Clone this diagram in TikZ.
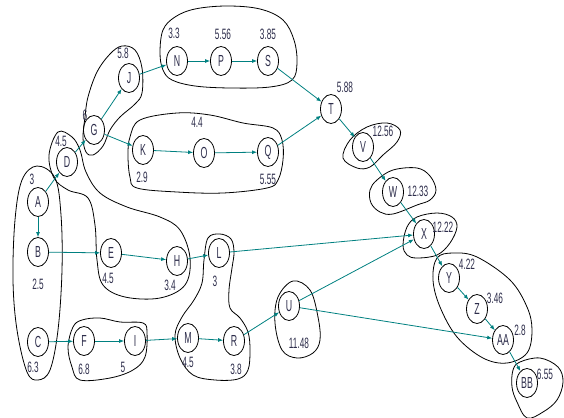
\documentclass[tikz,border=0pt]{standalone}
\usepackage{fontspec}
\setmainfont{Liberation Sans}[FakeStretch=0.55]
\usetikzlibrary{shapes.geometric,arrows.meta}
\definecolor{edgec}{RGB}{0,128,128}
\definecolor{txtc}{RGB}{45,45,75}
\tikzset{
  act/.style={ellipse,draw=black,line width=0.8pt,minimum width=21pt,minimum height=29pt,inner sep=0pt,
    font=\fontsize{16}{16}\selectfont,text=txtc},
  lab/.style={inner sep=0pt,font=\fontsize{15}{15}\selectfont,text=txtc},
  conn/.style={draw=edgec,line width=0.8pt,-{Latex[length=5pt,width=4pt]}},
  blob/.style={draw=black,line width=0.8pt,smooth cycle,tension=0.6}
}
\begin{document}
\begin{tikzpicture}[x=1pt,y=-1pt]
\useasboundingbox (0,0) rectangle (564,417);
% blobs
\draw[blob] plot coordinates {(37,166) (55,178) (61,215) (62,270) (58,330) (50,370) (38,380) (27,372) (17,330) (13,280) (15,220) (22,180)};
\draw[blob] plot coordinates {(58,132) (72,137) (80,150) (86,172) (100,193) (127,207) (160,217) (180,230) (190,258) (185,285) (160,298) (125,297) (103,285) (97,260) (95,225) (88,198) (68,190) (54,178) (49,155)};
\draw[blob] plot coordinates {(122,46) (135,50) (142,68) (142,93) (135,104) (120,117) (110,130) (103,146) (93,155) (86,152) (83,138) (85,117) (88,97) (97,72) (110,54)};
\draw[blob] plot coordinates {(163,30) (175,17) (195,9) (227,6) (260,9) (283,20) (294,40) (297,63) (292,80) (270,87) (230,88) (195,86) (172,80) (163,70) (160,53)};
\draw[blob] plot coordinates {(130,137) (140,120) (177,113) (210,115) (243,123) (273,128) (282,140) (283,160) (278,180) (267,188) (223,193) (177,192) (137,188) (130,177) (128,155)};
\draw[blob] plot coordinates {(208,238) (220,234) (231,239) (234,252) (232,268) (229,290) (230,308) (240,318) (248,332) (250,350) (248,370) (238,379) (215,380) (193,375) (180,358) (175,335) (182,317) (194,300) (202,283) (204,260)};
\draw[blob] plot coordinates {(293,281) (310,290) (318,317) (320,340) (313,353) (297,358) (282,350) (275,323) (278,297)};
\draw[blob] plot coordinates {(343,158) (350,140) (367,127) (387,123) (400,130) (397,142) (383,155) (370,167) (357,168)};
\draw[blob] plot coordinates {(377,180) (393,170) (417,168) (430,176) (436,190) (430,200) (417,205) (393,214) (380,212) (371,203) (370,190)};
\draw[blob] plot coordinates {(407,227) (417,217) (437,213) (452,217) (457,227) (450,243) (437,255) (417,258) (407,255) (403,245)};
\draw[blob] plot coordinates {(437,258) (453,253) (477,257) (510,280) (527,307) (532,330) (527,353) (507,363) (483,358) (457,337) (440,307) (433,280)};
\draw[blob] plot coordinates {(513,370) (520,362) (540,358) (558,367) (563,382) (557,400) (543,412) (527,418) (517,402) (512,387)};
\draw[blob] plot coordinates {(73,327) (82,320) (100,318) (120,322) (143,323) (147,333) (145,357) (133,370) (110,378) (80,380) (72,367) (68,347)};
% nodes
\node[act] (A) at (38,202) {A};
\node[act] (B) at (38,252) {B};
\node[act] (C) at (38,342) {C};
\node[act] (D) at (67,162) {D};
\node[act] (E) at (111,253) {E};
\node[act] (F) at (84,341) {F};
\node[act] (I) at (135,341) {I};
\node[act] (G) at (94,130) {G};
\node[act] (J) at (129,78) {J};
\node[act] (K) at (143,150) {K};
\node[act] (O) at (204,153) {O};
\node[act] (Q) at (268,152) {Q};
\node[act] (N) at (177,61) {N};
\node[act] (P) at (221,61) {P};
\node[act] (S) at (268,61) {S};
\node[act] (T) at (331,109) {T};
\node[act] (V) at (363,147) {V};
\node[act] (W) at (393,192) {W};
\node[act] (X) at (424,234) {X};
\node[act] (U) at (289,306) {U};
\node[act] (Y) at (449,278) {Y};
\node[act] (Z) at (477,309) {Z};
\node[act] (AA) at (503,340) {AA};
\node[act] (BB) at (527,383) {BB};
\node[act] (H) at (177,261) {H};
\node[act] (L) at (219,253) {L};
\node[act] (M) at (188,338) {M};
\node[act] (R) at (234,341) {R};
% labels
\node[lab] (lA) at (32,179) {3};
\node[lab] (lB) at (38,284) {2.5};
\node[lab] (lC) at (33,367) {6.3};
\node[lab] (lD) at (61,141) {4.5};
\node[lab] (lE) at (108,278) {4.5};
\node[lab] (lF) at (84,369) {6.8};
\node[lab] (lI) at (123,367) {5};
\node[lab] (lG) at (85,115) {6};
\node[lab] (lJ) at (123,53) {5.8};
\node[lab] (lK) at (142,177) {2.9};
\node[lab] (lO) at (197,122) {4.4};
\node[lab] (lQ) at (268,179) {5.55};
\node[lab] (lN) at (174,33) {3.3};
\node[lab] (lP) at (223,34) {5.56};
\node[lab] (lS) at (268,34) {3.85};
\node[lab] (lT) at (345,87) {5.88};
\node[lab] (lV) at (383,131) {12.56};
\node[lab] (lW) at (418,191) {12.33};
\node[lab] (lX) at (443,227) {12.22};
\node[lab] (lU) at (299,343) {11.48};
\node[lab] (lY) at (467,264) {4.22};
\node[lab] (lZ) at (495,298) {3.46};
\node[lab] (lAA) at (520,330) {2.8};
\node[lab] (lBB) at (545,374) {6.55};
\node[lab] (lH) at (170,285) {3.4};
\node[lab] (lL) at (215,281) {3};
\node[lab] (lM) at (188,362) {4.5};
\node[lab] (lR) at (236,369) {3.8};
% connectors
\foreach \a/\b in {A/D,A/B,B/E,D/G,G/J,G/K,J/N,N/P,P/S,K/O,O/Q,S/T,Q/T,T/V,V/W,W/X,E/H,H/L,L/X,C/F,F/I,I/M,M/R,R/U,U/X,U/AA,X/Y,Y/Z,Z/AA,AA/BB}
  \draw[conn] (\a) -- (\b);
\end{tikzpicture}
\end{document}
